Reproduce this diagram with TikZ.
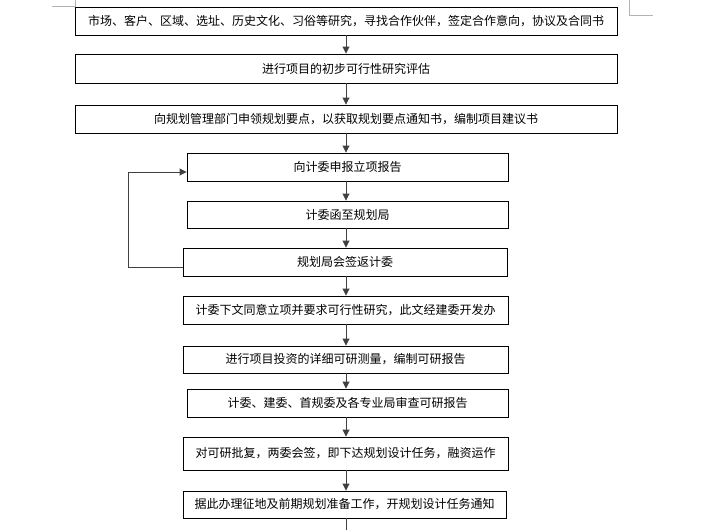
\documentclass[tikz,border=0pt]{standalone}
\usepackage{fontspec}
\setmainfont{Noto Sans CJK SC}
\usetikzlibrary{arrows.meta}
\begin{document}
\begin{tikzpicture}[x=1pt,y=-1pt,
  box/.style={draw=black,line width=0.9pt,fill=white,inner sep=0pt,font=\fontsize{12pt}{14pt}\selectfont},
  arr/.style={draw=black!75,line width=0.9pt,-{Triangle[length=7pt,width=7pt]}},
  plain/.style={draw=black!75,line width=0.9pt},
  cornermark/.style={draw=black!30,line width=0.9pt}]
\useasboundingbox (0,0) rectangle (722,530);
% corner marks
\draw[cornermark] (52,6) -- (75,6) -- (75,0);
\draw[cornermark] (629.5,0) -- (629.5,15) -- (653,15);
\coordinate (ax) at (346,0);
\coordinate (endpt) at (346,530);
% boxes
\node[box,minimum width=542pt,minimum height=28pt] (b1) at (346,21) {市场、客户、区域、选址、历史文化、习俗等研究，寻找合作伙伴，签定合作意向，协议及合同书};
\node[box,minimum width=542pt,minimum height=29pt] (b2) at (346,68.5) {进行项目的初步可行性研究评估};
\node[box,minimum width=542pt,minimum height=28pt] (b3) at (346,119) {向规划管理部门申领规划要点，以获取规划要点通知书，编制项目建议书};
\node[box,minimum width=321pt,minimum height=28pt] (b4) at (347.5,167) {向计委申报立项报告};
\node[box,minimum width=321pt,minimum height=27pt] (b5) at (347.5,214.5) {计委函至规划局};
\node[box,minimum width=324pt,minimum height=28pt] (b6) at (345,262) {规划局会签返计委};
\node[box,minimum width=325pt,minimum height=28pt] (b7) at (345.5,310) {计委下文同意立项并要求可行性研究，此文经建委开发办};
\node[box,minimum width=325pt,minimum height=27pt] (b8) at (345.5,359.5) {进行项目投资的详细可研测量，编制可研报告};
\node[box,minimum width=321pt,minimum height=28pt] (b9) at (347.5,403) {计委、建委、首规委及各专业局审查可研报告};
\node[box,minimum width=325pt,minimum height=33pt] (b10) at (345.5,453.5) {对可研批复，两委会签，即下达规划设计任务，融资运作};
\node[box,minimum width=323pt,minimum height=27pt] (b11) at (344.5,504.5) {据此办理征地及前期规划准备工作，开规划设计任务通知};
% connectors
\foreach \a/\b in {b1/b2,b2/b3,b3/b4,b4/b5,b5/b6,b6/b7,b7/b8,b8/b9,b9/b10,b10/b11}
  \draw[arr] (\a.south -| ax) -- (\b.north -| ax);
\draw[plain] (b11.south -| ax) -- (endpt);
% loop back
\draw[arr] ([yshift=-5pt]b6.west) -- ++(-54,0) |- ([yshift=-5pt]b4.west);
\end{tikzpicture}
\end{document}
